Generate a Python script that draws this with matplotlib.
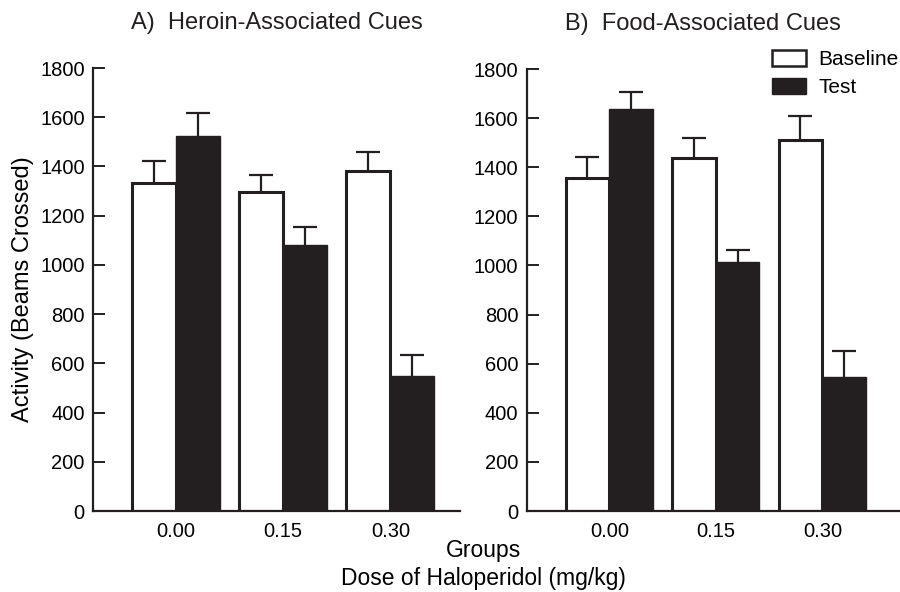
import numpy as np
import matplotlib
matplotlib.use('Agg')
from matplotlib import pyplot as plt
from matplotlib.patches import Patch

plt.rcParams['font.family'] = ['Liberation Sans', 'DejaVu Sans']

doses = ['0.00', '0.15', '0.30']

heroin_base = [1331, 1298, 1381]
heroin_base_err = [92, 66, 78]
heroin_test = [1524, 1080, 549]
heroin_test_err = [95, 75, 84]

food_base = [1357, 1439, 1511]
food_base_err = [83, 80, 97]
food_test = [1636, 1013, 547]
food_test_err = [69, 48, 106]

yticks = [0, 200, 400, 600, 800, 1000, 1200, 1400, 1600, 1800]

ink = '#231f20'

fig = plt.figure(figsize=(9, 5.92), dpi=100)
ax1 = fig.add_axes([0.1033, 0.1368, 0.4078, 0.7483])
ax2 = fig.add_axes([0.5852, 0.1368, 0.4137, 0.7466])

w = 0.41
x = np.arange(len(doses))

def up_errors(ax, xs, vals, errs):
    eb = ax.errorbar(xs, vals, yerr=[np.zeros(len(vals)), errs], fmt='none',
                     ecolor=ink, elinewidth=1.6, capsize=8.5, capthick=1.6, zorder=1)
    eb[1][0].set_visible(False)  # hide the lower cap

def draw_panel(ax, base, base_err, test, test_err, title, xmax, tx):
    up_errors(ax, x - w/2, base, base_err)
    up_errors(ax, x + w/2, test, test_err)
    ax.bar(x - w/2, base, w, color='white', edgecolor=ink, linewidth=2.2, zorder=2)
    ax.bar(x + w/2, test, w, color=ink, edgecolor=ink, linewidth=1.0, zorder=2)
    ax.set_xlim(-0.776, xmax)
    ax.set_ylim(0, 1800)
    ax.set_yticks(yticks)
    ax.set_xticks(x)
    ax.set_xticklabels(doses)
    ax.spines['top'].set_visible(False)
    ax.spines['right'].set_visible(False)
    for s in ['left', 'bottom']:
        ax.spines[s].set_linewidth(1.6)
        ax.spines[s].set_color(ink)
    ax.tick_params(axis='y', direction='in', length=8.5, width=1.4, pad=6, labelsize=14.5, color=ink)
    ax.tick_params(axis='x', length=0, pad=8, labelsize=14.5)
    ax.set_title(title, fontsize=17, pad=28, color=ink, x=tx)

draw_panel(ax1, heroin_base, heroin_base_err, heroin_test, heroin_test_err,
           'A)  Heroin-Associated Cues', 2.65, 0.501)
draw_panel(ax2, food_base, food_base_err, food_test, food_test_err,
           'B)  Food-Associated Cues', 2.72, 0.4735)

ax1.set_ylabel('Activity (Beams Crossed)', fontsize=17, labelpad=4)

handles = [Patch(facecolor='white', edgecolor=ink, linewidth=1.8),
           Patch(facecolor=ink, edgecolor=ink)]
fig.legend(handles, ['Baseline', 'Test'], loc='upper left', bbox_to_anchor=(0.858, 0.916),
           frameon=False, fontsize=15, handlelength=1.6, handleheight=0.85,
           handletextpad=0.6, labelspacing=0.4, borderaxespad=0, borderpad=0)

fig.text(0.537, 0.07, 'Groups', ha='center', va='center', fontsize=16.5)
fig.text(0.537, 0.023, 'Dose of Haloperidol (mg/kg)', ha='center', va='center', fontsize=16.5)

fig.savefig('out.png', dpi=100)
